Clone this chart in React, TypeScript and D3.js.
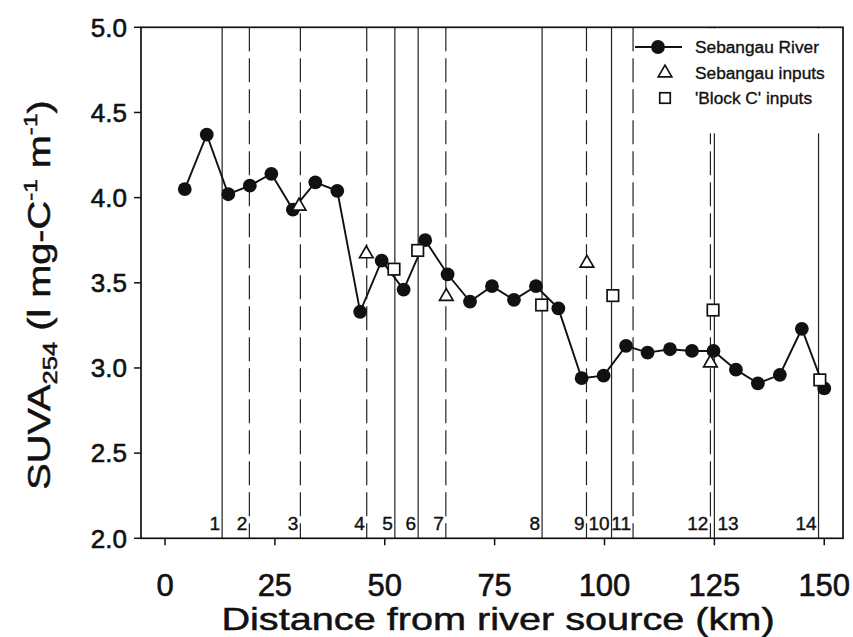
import React from 'react';
import * as d3 from 'd3';

// ---- Data ----
const riverKm = [4.5, 9.5, 14.4, 19.3, 24.2, 29.1, 34.2, 39.2, 44.4, 49.3, 54.3, 59.2, 64.3, 69.4, 74.4, 79.4, 84.4, 89.5, 94.8, 99.8, 104.9, 109.8, 114.9, 119.9, 124.8, 129.9, 134.9, 139.9, 144.9, 150.0];
const riverSuva = [4.05, 4.37, 4.02, 4.07, 4.14, 3.93, 4.09, 4.04, 3.33, 3.63, 3.46, 3.75, 3.55, 3.39, 3.48, 3.4, 3.48, 3.35, 2.94, 2.955, 3.13, 3.09, 3.11, 3.1, 3.1, 2.99, 2.91, 2.96, 3.23, 2.88];
const sebInputKm = [30.5, 45.8, 64.0, 96.0, 124.1];
const sebInputSuva = [3.95, 3.67, 3.42, 3.615, 3.03];
const blockCKm = [52.1, 57.5, 85.7, 101.9, 124.7, 149.0];
const blockCSuva = [3.58, 3.69, 3.37, 3.425, 3.34, 2.93];
const boundaryKm = [13.0, 19.2, 30.8, 45.9, 52.3, 57.6, 63.9, 85.8, 95.9, 101.6, 106.5, 124.1, 125.0, 148.7];
const boundaryLabels = ['1', '2', '3', '4', '5', '6', '7', '8', '9', '10', '11', '12', '13', '14'];
const boundaryDashed = [false, true, true, true, false, false, true, false, true, false, true, true, false, false];
const boundaryLabelRight = [false, false, false, false, false, false, false, false, false, false, false, false, true, false];
const xTicks = [0, 25, 50, 75, 100, 125, 150];
const yTicks = [2.0, 2.5, 3.0, 3.5, 4.0, 4.5, 5.0];
const legendLabels = ['Sebangau River', 'Sebangau inputs', "'Block C' inputs"];

const W = 853;
const H = 637;
const FONT = "'Liberation Sans', Arial, Helvetica, sans-serif";
const INK = '#111';

export default function App() {
  const left = 141;
  const right = 843;
  const top = 27.3;
  const bottom = 538.3;
  const pxPerKm = 4.395;
  const x0 = 165;
  const x = d3.scaleLinear().domain([(left - x0) / pxPerKm, (right - x0) / pxPerKm]).range([left, right]);
  const y = d3.scaleLinear().domain([2, 5]).range([bottom, top]);

  const river = riverKm.map((k, i) => [k, riverSuva[i]] as [number, number]);
  const lineGen = d3.line<[number, number]>().x(d => x(d[0])).y(d => y(d[1]));

  const tri = d3.symbol().type(d3.symbolTriangle).size(80)();
  const sq = (cx: number, cy: number, s: number) => (
    <rect x={cx - s / 2} y={cy - s / 2} width={s} height={s} fill="#fff" stroke={INK} strokeWidth={1.7} />
  );

  const legX = 637;
  const legRows = [47, 73, 98];
  const cxTitle = (left + right) / 2 + 6;

  return (
    <svg width={W} height={H} style={{ position: 'absolute', left: 0, top: 0, display: 'block', background: '#fff' }}>
      <rect x={0} y={0} width={W} height={H} fill="#fff" />
      {/* boundary lines */}
      {boundaryKm.map((k, i) => (
        <line key={'b' + i} x1={x(k)} x2={x(k)} y1={top} y2={bottom}
          stroke="#222" strokeWidth={1.2}
          strokeDasharray={boundaryDashed[i] ? '24,7' : undefined} />
      ))}
      {/* boundary labels */}
      {boundaryKm.map((k, i) => (
        <text key={'bl' + i} x={boundaryLabelRight[i] ? x(k) + 3 : x(k) - 2} y={530}
          textAnchor={boundaryLabelRight[i] ? 'start' : 'end'}
          fontFamily={FONT} fontSize={19} fill={INK} stroke={INK} strokeWidth={0.4}>{boundaryLabels[i]}</text>
      ))}
      {/* legend background */}
      <rect x={legX} y={top + 1} width={right - legX - 1} height={105} fill="#fff" />
      {/* frame */}
      <rect x={left} y={top} width={right - left} height={bottom - top} fill="none" stroke={INK} strokeWidth={1.7} />
      {/* x axis ticks */}
      {xTicks.map(t => (
        <g key={'xt' + t}>
          <line x1={x(t)} x2={x(t)} y1={bottom} y2={bottom + 7} stroke={INK} strokeWidth={1.5} />
          <text x={x(t)} y={596} textAnchor="middle" fontFamily={FONT} fontSize={31} fill={INK} stroke={INK} strokeWidth={0.6}>{t}</text>
        </g>
      ))}
      {/* y axis ticks */}
      {yTicks.map(t => (
        <g key={'yt' + t}>
          <line x1={left} x2={left - 7} y1={y(t)} y2={y(t)} stroke={INK} strokeWidth={1.5} />
          <text x={127} y={y(t)} dy="0.36em" textAnchor="end" fontFamily={FONT} fontSize={26} fill={INK} stroke={INK} strokeWidth={0.6}>{t.toFixed(1)}</text>
        </g>
      ))}
      {/* axis titles */}
      <text x={0} y={0} textAnchor="middle" fontFamily={FONT} fontSize={32} fill={INK} stroke={INK} strokeWidth={0.5}
        transform={`translate(${cxTitle},630) scale(1.24,1)`}>
        Distance from river source (km)
      </text>
      <text transform={`translate(50,295) rotate(-90) scale(1.28,1)`} textAnchor="middle"
        fontFamily={FONT} fontSize={31} fill={INK} stroke={INK} strokeWidth={0.5}>
        SUVA<tspan fontSize={20} dy={7}>254</tspan><tspan dy={-7}> (l mg-C</tspan><tspan fontSize={19} dy={-13}>-1</tspan><tspan dy={13}> m</tspan><tspan fontSize={19} dy={-13}>-1</tspan><tspan dy={13}>)</tspan>
      </text>
      {/* river series */}
      <path d={lineGen(river) || ''} fill="none" stroke={INK} strokeWidth={1.9} />
      {river.map((d, i) => (
        <circle key={'r' + i} cx={x(d[0])} cy={y(d[1])} r={6.9} fill={INK} />
      ))}
      {/* Sebangau inputs */}
      {sebInputKm.map((k, i) => (
        <path key={'s' + i} d={tri || ''} transform={`translate(${x(k)},${y(sebInputSuva[i])})`} fill="#fff" stroke={INK} strokeWidth={1.7} />
      ))}
      {/* Block C inputs */}
      {blockCKm.map((k, i) => <g key={'c' + i}>{sq(x(k), y(blockCSuva[i]), 11.5)}</g>)}
      {/* legend */}
      <line x1={635} x2={682} y1={legRows[0]} y2={legRows[0]} stroke={INK} strokeWidth={1.9} />
      <circle cx={658} cy={legRows[0]} r={6.9} fill={INK} />
      <path d={tri || ''} transform={`translate(665,${legRows[1]})`} fill="#fff" stroke={INK} strokeWidth={1.7} />
      {sq(665, legRows[2], 10.5)}
      {legendLabels.map((l, i) => (
        <text key={'l' + i} x={695} y={legRows[i]} dy="0.36em" fontFamily={FONT} fontSize={17.3} fill={INK} stroke={INK} strokeWidth={0.35}>{l}</text>
      ))}
    </svg>
  );
}
